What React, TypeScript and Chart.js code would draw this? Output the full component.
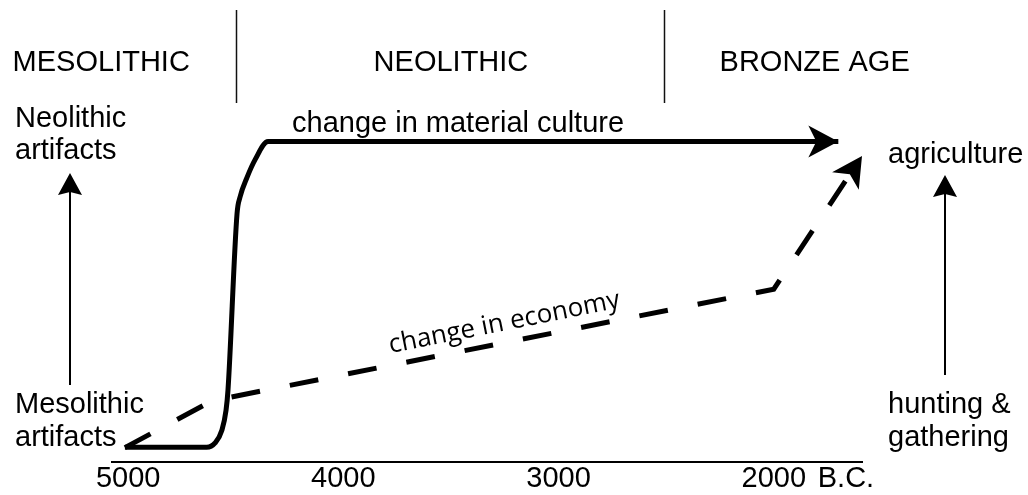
import React, { useEffect, useRef } from "react";
import { Chart, registerables } from "chart.js";

Chart.register(...registerables);

// ---------- data ----------
const tickYears = [5000, 4000, 3000, 2000];

// change in material culture (solid)
const solidYears = [5015, 4635, 4596, 4564, 4545, 4536, 4494, 4480, 4448, 4410, 4350, 1700];
const solidLevels = [4.1, 4.1, 5.3, 8.9, 14.4, 20, 69, 73.6, 79, 84, 89, 89];

// change in economy (dashed)
const dashedYears = [5015, 4610, 2000, 1590];
const dashedLevels = [4, 17, 48, 85];

const periodNames = ["MESOLITHIC", "NEOLITHIC", "BRONZE AGE"];
const periodLabelYears = [5125, 3500, 1810];
const periodBoundaries = [4500, 2510];

const solidLabel = "change in material culture";
const dashedLabel = "change in economy";
const leftTopLabels = ["Neolithic", "artifacts"];
const leftBottomLabels = ["Mesolithic", "artifacts"];
const rightTopLabels = ["agriculture"];
const rightBottomLabels = ["hunting &", "gathering"];
const unitLabel = "B.C.";

// vertical indicator arrows: [from level, to level]
const leftArrowLevels = [21.4, 80.3];
const rightArrowLevels = [24.2, 79.7];

// ---------- styling / layout ----------
const FONT = '"Liberation Sans", Arial, Helvetica, sans-serif';
const LABEL_FONT = `29px ${FONT}`;
const ROTATED_FONT = `26px "Open Sans", "Noto Sans", sans-serif`;
const TICK_PAD = 2;

function drawHead(
  ctx: CanvasRenderingContext2D,
  x: number,
  y: number,
  angle: number,
  len: number,
  half: number,
  notch: number
) {
  ctx.save();
  ctx.translate(x, y);
  ctx.rotate(angle);
  ctx.beginPath();
  ctx.moveTo(0, 0);
  ctx.lineTo(-len, -half);
  ctx.lineTo(-len + notch, 0);
  ctx.lineTo(-len, half);
  ctx.closePath();
  ctx.fill();
  ctx.restore();
}

const annotationPlugin = {
  id: "annotations",
  afterDatasetsDraw(chart: any) {
    const ctx: CanvasRenderingContext2D = chart.ctx;
    ctx.save();
    ctx.fillStyle = "#000";
    chart.data.datasets.forEach((_: any, i: number) => {
      const pts = chart.getDatasetMeta(i).data;
      const a = pts[pts.length - 2];
      const b = pts[pts.length - 1];
      const ang = Math.atan2(b.y - a.y, b.x - a.x);
      drawHead(ctx, b.x, b.y, ang, 30, 16, 8);
    });
    ctx.restore();
  },
  afterDraw(chart: any) {
    const ctx: CanvasRenderingContext2D = chart.ctx;
    const xs = chart.scales.x;
    const ys = chart.scales.y;
    const area = chart.chartArea;
    ctx.save();
    ctx.fillStyle = "#000";
    ctx.strokeStyle = "#111";

    // period dividers
    ctx.lineWidth = 1.5;
    periodBoundaries.forEach((yr) => {
      const px = Math.round(xs.getPixelForValue(yr)) + 0.5;
      ctx.beginPath();
      ctx.moveTo(px, 10);
      ctx.lineTo(px, area.top + 1);
      ctx.stroke();
    });

    // period names
    ctx.font = LABEL_FONT;
    ctx.textBaseline = "alphabetic";
    ctx.textAlign = "center";
    periodNames.forEach((n, i) => {
      ctx.fillText(n, xs.getPixelForValue(periodLabelYears[i]), 71);
    });

    // side labels
    ctx.textAlign = "left";
    leftTopLabels.forEach((t, i) => ctx.fillText(t, 15, 127 + i * 32));
    leftBottomLabels.forEach((t, i) => ctx.fillText(t, 15, 413 + i * 33));
    rightTopLabels.forEach((t, i) => ctx.fillText(t, 888, 163 + i * 32));
    rightBottomLabels.forEach((t, i) => ctx.fillText(t, 888, 413 + i * 33));

    // solid line label
    ctx.fillText(solidLabel, 292, 132);

    // unit label next to last tick
    ctx.textBaseline = "middle";
    ctx.fillText(unitLabel, xs.getPixelForValue(2000) + 44, area.bottom + TICK_PAD + 14.5);

    // vertical indicator arrows
    ctx.lineWidth = 2;
    ctx.strokeStyle = "#000";
    const vArrow = (x: number, lv: number[]) => {
      const y0 = ys.getPixelForValue(lv[0]);
      const y1 = ys.getPixelForValue(lv[1]);
      ctx.beginPath();
      ctx.moveTo(x, y0);
      ctx.lineTo(x, y1 + 12);
      ctx.stroke();
      drawHead(ctx, x, y1, -Math.PI / 2, 22, 12, 3);
    };
    vArrow(70, leftArrowLevels);
    vArrow(945, rightArrowLevels);

    // rotated label along dashed line
    const dp = chart.getDatasetMeta(1).data;
    const p1 = dp[1];
    const p2 = dp[2];
    const dx = p2.x - p1.x;
    const dy = p2.y - p1.y;
    const L = Math.hypot(dx, dy);
    const t = 0.527;
    const off = 12;
    const cx = p1.x + dx * t + (dy / L) * off;
    const cy = p1.y + dy * t - (dx / L) * off;
    ctx.translate(cx, cy);
    ctx.rotate(Math.atan2(dy, dx));
    ctx.font = ROTATED_FONT;
    ctx.textAlign = "center";
    ctx.textBaseline = "alphabetic";
    ctx.fillText(dashedLabel, 0, 0);
    ctx.restore();
  },
};

export default function App() {
  const ref = useRef<HTMLCanvasElement | null>(null);

  useEffect(() => {
    if (!ref.current) return;
    const chart = new Chart(ref.current, {
      type: "line",
      data: {
        datasets: [
          {
            data: solidYears.map((x, i) => ({ x, y: solidLevels[i] })),
            borderColor: "#000",
            borderWidth: 5,
            pointRadius: 0,
            cubicInterpolationMode: "monotone",
            borderJoinStyle: "round",
            borderCapStyle: "butt",
            fill: false,
            clip: false,
          } as any,
          {
            data: dashedYears.map((x, i) => ({ x, y: dashedLevels[i] })),
            borderColor: "#000",
            borderWidth: 5,
            borderDash: [29, 30.4],
            pointRadius: 0,
            tension: 0,
            borderJoinStyle: "miter",
            borderCapStyle: "butt",
            fill: false,
            clip: false,
          } as any,
        ],
      },
      options: {
        responsive: false,
        animation: false,
        events: [],
        layout: { padding: { left: 112, right: 166, top: 102, bottom: 0 } },
        plugins: {
          legend: { display: false },
          tooltip: { enabled: false },
        },
        scales: {
          x: {
            type: "linear",
            reverse: true,
            min: 1590,
            max: 5075,
            grid: { display: false, drawTicks: false, tickLength: 0 },
            border: { display: true, color: "#000", width: 2 },
            ticks: {
              color: "#000",
              font: { family: FONT, size: 29, lineHeight: 1 },
              padding: TICK_PAD,
              maxRotation: 0,
              autoSkip: false,
              callback: (v: any) => String(v),
            },
            afterBuildTicks: (s: any) => {
              s.ticks = tickYears.map((v) => ({ value: v }));
            },
          },
          y: { display: false, min: 0, max: 100 },
        },
      } as any,
      plugins: [annotationPlugin],
    });
    return () => chart.destroy();
  }, []);

  return (
    <div style={{ position: "absolute", left: 0, top: 0, width: 1028, height: 495, background: "#fff" }}>
      <canvas ref={ref} width={1028} height={495} style={{ display: "block", width: 1028, height: 495 }} />
    </div>
  );
}
